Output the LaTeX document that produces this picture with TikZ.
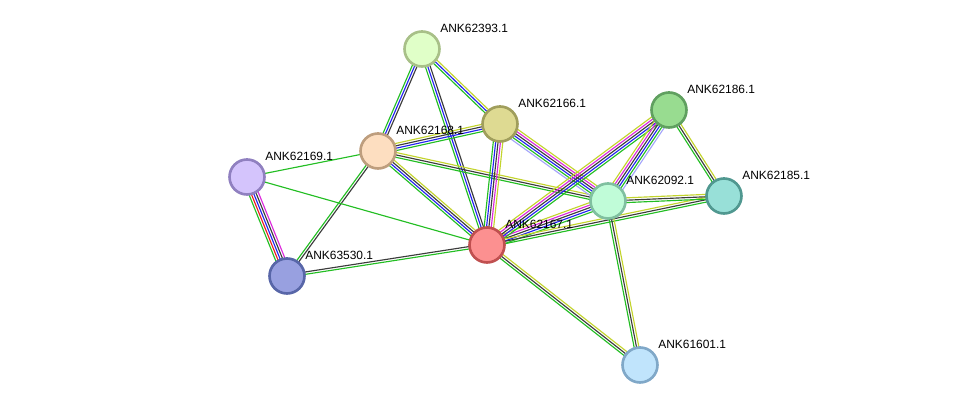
\documentclass[tikz,border=0pt]{standalone}
\usepackage{fontspec}
\setmainfont{Liberation Sans}
\usepackage{tikz}
\usetikzlibrary{positioning,calc,backgrounds}

% evidence colours
\definecolor{sgreen}{RGB}{35,190,35}
\definecolor{sred}{RGB}{235,30,30}
\definecolor{sblue}{RGB}{35,35,240}
\definecolor{sblack}{RGB}{60,60,60}
\definecolor{smag}{RGB}{220,40,220}
\definecolor{slblue}{RGB}{165,165,250}
\definecolor{syel}{RGB}{195,212,45}

% one line per evidence channel, side by side
\newcommand{\slink}[4]{%
  \foreach \col [count=\i] in {#4}{
    \pgfmathsetmacro{\off}{(\i-(#3+1)/2)*1.35}
    \draw[\col, line width=0.65pt] ($(#1)!\off pt!90:(#2)$) -- ($(#2)!\off pt!-90:(#1)$);
  }%
}

\begin{document}
\begin{tikzpicture}[
    x=0.02cm, y=-0.02cm,
    prot/.style={circle, draw, line width=1.5pt, minimum size=0.7cm, inner sep=0pt},
    lbl/.style={anchor=south west, inner sep=0pt, font=\fontsize{6.8}{7.5}\selectfont}
]
\useasboundingbox (0,0) rectangle (975,411);

\node[prot, fill={rgb,255:red,224;green,255;blue,200}, draw={rgb,255:red,168;green,192;blue,136}] (n62393) at (422,49) {};
\node[prot, fill={rgb,255:red,222;green,218;blue,146}, draw={rgb,255:red,160;green,158;blue,92}] (n62166) at (500,124) {};
\node[prot, fill={rgb,255:red,253;green,222;blue,192}, draw={rgb,255:red,190;green,158;blue,126}] (n62168) at (378,151) {};
\node[prot, fill={rgb,255:red,212;green,196;blue,252}, draw={rgb,255:red,144;green,128;blue,192}] (n62169) at (247,177) {};
\node[prot, fill={rgb,255:red,152;green,160;blue,224}, draw={rgb,255:red,88;green,102;blue,168}] (n63530) at (287,276) {};
\node[prot, fill={rgb,255:red,252;green,144;blue,144}, draw={rgb,255:red,192;green,80;blue,80}] (n62167) at (487,245) {};
\node[prot, fill={rgb,255:red,192;green,252;blue,216}, draw={rgb,255:red,128;green,192;blue,160}] (n62092) at (608,201) {};
\node[prot, fill={rgb,255:red,152;green,220;blue,144}, draw={rgb,255:red,96;green,160;blue,96}] (n62186) at (669,110) {};
\node[prot, fill={rgb,255:red,152;green,224;blue,216}, draw={rgb,255:red,80;green,152;blue,144}] (n62185) at (724,196) {};
\node[prot, fill={rgb,255:red,192;green,228;blue,252}, draw={rgb,255:red,128;green,168;blue,200}] (n61601) at (640,365) {};

\node[lbl] (l62393) at ($(n62393)+(18,-16)$) {ANK62393.1};
\node[lbl] (l62166) at ($(n62166)+(18,-16)$) {ANK62166.1};
\node[lbl] (l62168) at ($(n62168)+(18,-16)$) {ANK62168.1};
\node[lbl] (l62169) at ($(n62169)+(18,-16)$) {ANK62169.1};
\node[lbl] (l63530) at ($(n63530)+(18,-16)$) {ANK63530.1};
\node[lbl] (l62167) at ($(n62167)+(18,-16)$) {ANK62167.1};
\node[lbl] (l62092) at ($(n62092)+(18,-16)$) {ANK62092.1};
\node[lbl] (l62186) at ($(n62186)+(18,-16)$) {ANK62186.1};
\node[lbl] (l62185) at ($(n62185)+(18,-16)$) {ANK62185.1};
\node[lbl] (l61601) at ($(n61601)+(18,-16)$) {ANK61601.1};

\begin{pgfonlayer}{background}
\slink{n62393}{n62168}{3}{sgreen,sblue,sblack}
\slink{n62393}{n62167}{3}{sgreen,sblue,sblack}
\slink{n62393}{n62166}{3}{sgreen,sblue,syel}
\slink{n62168}{n62166}{4}{sgreen,sblue,sblack,syel}
\slink{n62168}{n62167}{4}{sgreen,sblue,sblack,syel}
\slink{n62168}{n62092}{3}{sgreen,sblack,syel}
\slink{n62168}{n62169}{1}{sgreen}
\slink{n62168}{n63530}{2}{sgreen,sblack}
\slink{n62169}{n63530}{5}{sgreen,sred,sblue,sblack,smag}
\slink{n62169}{n62167}{1}{sgreen}
\slink{n63530}{n62167}{2}{sgreen,sblack}
\slink{n62166}{n62167}{5}{sgreen,sblue,sblack,smag,syel}
\slink{n62166}{n62092}{6}{slblue,sgreen,sblue,sblack,smag,syel}
\slink{n62167}{n62092}{5}{sgreen,sblue,sblack,smag,syel}
\slink{n62167}{n62186}{5}{sgreen,sblue,sblack,smag,syel}
\slink{n62167}{n62185}{3}{sgreen,sblack,syel}
\slink{n62167}{n61601}{3}{sgreen,sblack,syel}
\slink{n62092}{n62186}{6}{slblue,sgreen,sblue,sblack,smag,syel}
\slink{n62092}{n62185}{3}{sgreen,sblack,syel}
\slink{n62092}{n61601}{3}{sgreen,sblack,syel}
\slink{n62186}{n62185}{3}{sgreen,sblack,syel}
\end{pgfonlayer}

\end{tikzpicture}
\end{document}
